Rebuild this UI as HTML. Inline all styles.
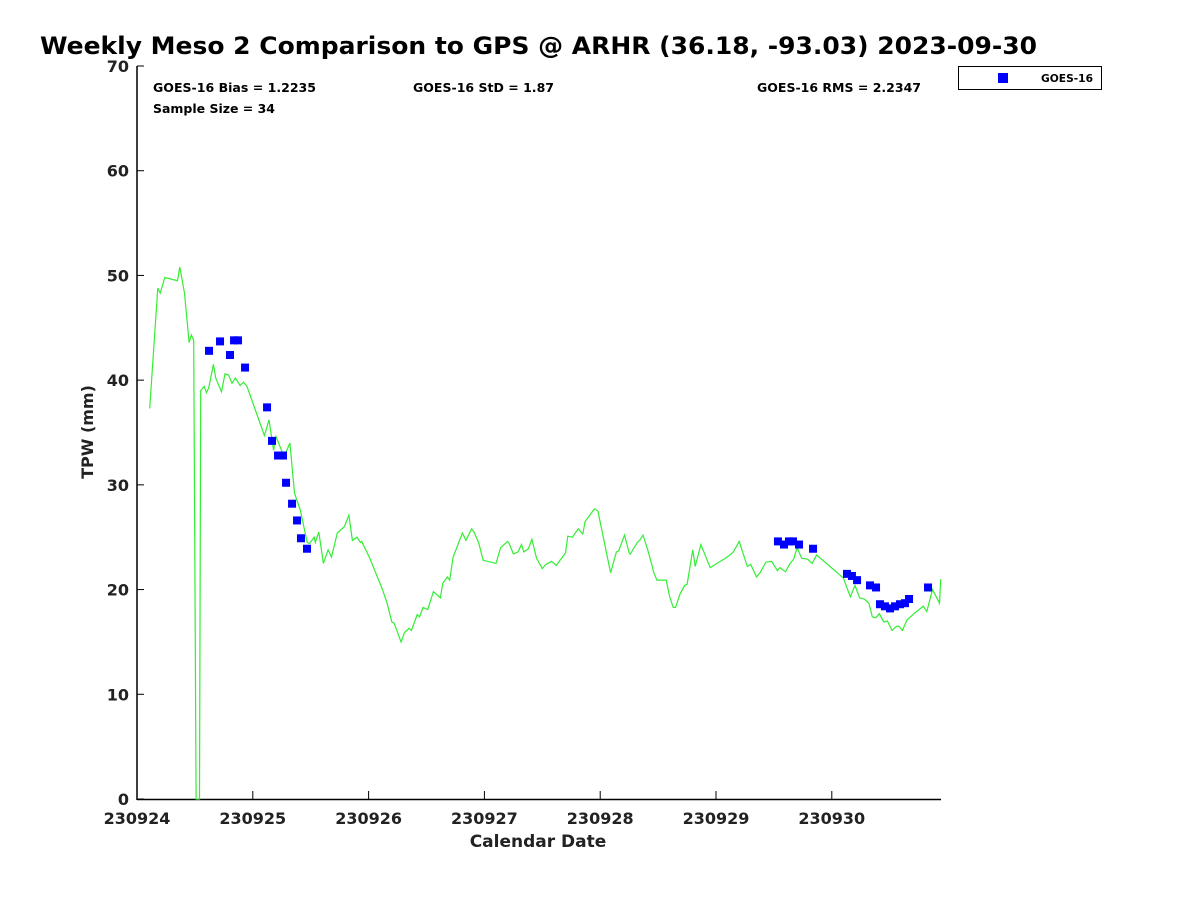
<!DOCTYPE html>
<html><head><meta charset="utf-8"><style>
html,body{margin:0;padding:0;background:#fff;width:1200px;height:900px;overflow:hidden}
svg text{font-family:"DejaVu Sans","Liberation Sans",sans-serif;font-weight:bold;fill:#222}
</style></head><body>
<svg id="chart" width="1200" height="900" xmlns="http://www.w3.org/2000/svg">
<text x="40" y="54" font-size="24" textLength="997" lengthAdjust="spacingAndGlyphs" style="fill:#000">Weekly Meso 2 Comparison to GPS @ ARHR (36.18, -93.03) 2023-09-30</text>
<text x="153" y="92" font-size="12" textLength="163" lengthAdjust="spacingAndGlyphs" style="fill:#000">GOES-16 Bias = 1.2235</text>
<text x="413" y="92" font-size="12" textLength="141" lengthAdjust="spacingAndGlyphs" style="fill:#000">GOES-16 StD = 1.87</text>
<text x="757" y="92" font-size="12" textLength="164" lengthAdjust="spacingAndGlyphs" style="fill:#000">GOES-16 RMS = 2.2347</text>
<text x="153" y="113" font-size="12" textLength="122" lengthAdjust="spacingAndGlyphs" style="fill:#000">Sample Size = 34</text>
<g>
<rect x="958.5" y="66.5" width="143" height="23" fill="#fff" stroke="#000" stroke-width="1"/>
<rect x="998" y="73" width="10" height="10" fill="#0000ff"/>
<text x="1041" y="82" font-size="11" textLength="52" lengthAdjust="spacingAndGlyphs" style="fill:#000">GOES-16</text>
</g>
<text x="538" y="847" font-size="17" text-anchor="middle">Calendar Date</text>
<text transform="translate(93,432) rotate(-90)" font-size="16" text-anchor="middle">TPW (mm)</text>
<g id="axes"></g>
<g id="plot"></g>
</svg>
<script>
const xTickLabels=["230924","230925","230926","230927","230928","230929","230930"];
const yTicks=[0,10,20,30,40,50,60,70];
const lineDays=[0.11,0.18,0.20,0.24,0.35,0.37,0.41,0.45,0.47,0.49,0.51,0.54,0.55,0.58,0.60,0.62,0.66,0.68,0.73,0.76,0.79,0.82,0.85,0.89,0.92,0.95,1.10,1.14,1.18,1.20,1.27,1.32,1.36,1.41,1.47,1.49,1.53,1.54,1.57,1.61,1.65,1.68,1.73,1.79,1.83,1.86,1.90,1.93,1.94,2.01,2.12,2.16,2.20,2.22,2.28,2.31,2.35,2.37,2.42,2.44,2.47,2.51,2.56,2.62,2.64,2.68,2.70,2.73,2.81,2.84,2.89,2.91,2.95,2.99,3.10,3.14,3.20,3.21,3.25,3.29,3.32,3.34,3.38,3.41,3.45,3.50,3.53,3.58,3.62,3.70,3.72,3.76,3.81,3.85,3.87,3.95,3.98,4.09,4.14,4.16,4.21,4.25,4.26,4.32,4.34,4.37,4.41,4.45,4.46,4.49,4.57,4.60,4.63,4.65,4.69,4.73,4.75,4.80,4.82,4.87,4.95,5.08,5.12,5.15,5.20,5.23,5.27,5.30,5.35,5.38,5.43,5.48,5.53,5.55,5.60,5.64,5.67,5.70,5.74,5.79,5.83,5.87,6.10,6.16,6.20,6.24,6.28,6.32,6.35,6.38,6.41,6.45,6.48,6.52,6.56,6.58,6.61,6.65,6.68,6.72,6.79,6.82,6.87,6.93,6.94];
const lineValues=[37.3,48.8,48.3,49.8,49.5,50.8,48.3,43.6,44.3,43.8,0,0,39.0,39.4,38.8,39.3,41.5,40.2,38.9,40.6,40.5,39.7,40.2,39.5,39.8,39.4,34.7,36.2,33.3,34.6,32.7,34.0,29.2,27.6,24.5,24.4,25.0,24.5,25.5,22.5,23.8,23.1,25.4,26.0,27.1,24.7,25.0,24.5,24.6,23.0,20.0,18.7,16.9,16.8,15.0,15.9,16.3,16.1,17.6,17.4,18.3,18.1,19.8,19.2,20.6,21.2,20.9,23.1,25.4,24.7,25.8,25.5,24.5,22.8,22.5,24.0,24.6,24.5,23.4,23.6,24.3,23.6,23.9,24.8,23.0,22.0,22.4,22.7,22.3,23.5,25.1,25.0,25.8,25.3,26.5,27.7,27.5,21.6,23.6,23.7,25.2,23.5,23.4,24.5,24.7,25.2,23.8,22.2,21.7,20.9,20.9,19.3,18.3,18.3,19.6,20.4,20.5,23.8,22.2,24.3,22.1,23.0,23.3,23.6,24.6,23.6,22.2,22.4,21.2,21.6,22.6,22.7,21.8,22.1,21.7,22.5,22.9,24.0,23.0,22.9,22.5,23.3,21.1,19.3,20.4,19.2,19.1,18.7,17.4,17.3,17.7,16.9,17.0,16.1,16.5,16.5,16.1,17.1,17.4,17.8,18.4,17.9,20.0,18.7,21.0];
const goesDays=[0.622,0.717,0.803,0.838,0.872,0.933,1.123,1.166,1.218,1.261,1.287,1.339,1.382,1.416,1.468,5.535,5.587,5.630,5.665,5.717,5.838,6.131,6.174,6.218,6.330,6.382,6.416,6.459,6.503,6.546,6.589,6.632,6.667,6.831];
const goesValues=[42.8,43.7,42.4,43.8,43.8,41.2,37.4,34.2,32.8,32.8,30.2,28.2,26.6,24.9,23.9,24.6,24.3,24.6,24.6,24.3,23.9,21.5,21.3,20.9,20.4,20.2,18.6,18.4,18.2,18.4,18.6,18.7,19.1,20.2];

const X0=137,X1=941,Y0=799,Y1=66,XMAX=6.943,YMAX=70;
const xs=d=>X0+d*(X1-X0)/XMAX;
const ys=v=>Y0-v*(Y0-Y1)/YMAX;
const NS="http://www.w3.org/2000/svg";
const axes=document.getElementById('axes'),plot=document.getElementById('plot');
function mk(tag,parent,attrs){const e=document.createElementNS(NS,tag);for(const k in attrs)e.setAttribute(k,attrs[k]);parent.appendChild(e);return e;}
const yl=mk('line',axes,{x1:X0,y1:Y1,x2:X0,y2:Y0+1,stroke:'#000','stroke-width':1.5});


const xl=mk('line',axes,{x1:X0,y1:Y0+0.5,x2:X1,y2:Y0+0.5,stroke:'#000','stroke-width':1.5});


yTicks.forEach(v=>{
  const y=ys(v);
  mk('line',axes,{x1:X0,y1:y,x2:X0+7,y2:y,stroke:'#000'});
  const t=mk('text',axes,{x:X0-8,y:y+6,'font-size':16,'text-anchor':'end'});
  t.textContent=v;
  
  
});
xTickLabels.forEach((lab,i)=>{
  const x=xs(i);
  mk('line',axes,{x1:x,y1:Y0,x2:x,y2:Y0-8,stroke:'#000'});
  const t=mk('text',axes,{x:x,y:824,'font-size':16,'text-anchor':'middle'});
  t.textContent=lab;
  
  
});
const pts=lineDays.map((d,i)=>xs(d).toFixed(1)+','+ys(lineValues[i]).toFixed(1)).join(' ');
const pl=mk('polyline',plot,{points:pts,fill:'none',stroke:'#33ee33','stroke-width':1.2});


goesDays.forEach((d,i)=>{
  const r=mk('rect',plot,{x:xs(d)-4,y:ys(goesValues[i])-4,width:8,height:8,fill:'#0000ff'});
  
  
});
</script>
</body></html>
